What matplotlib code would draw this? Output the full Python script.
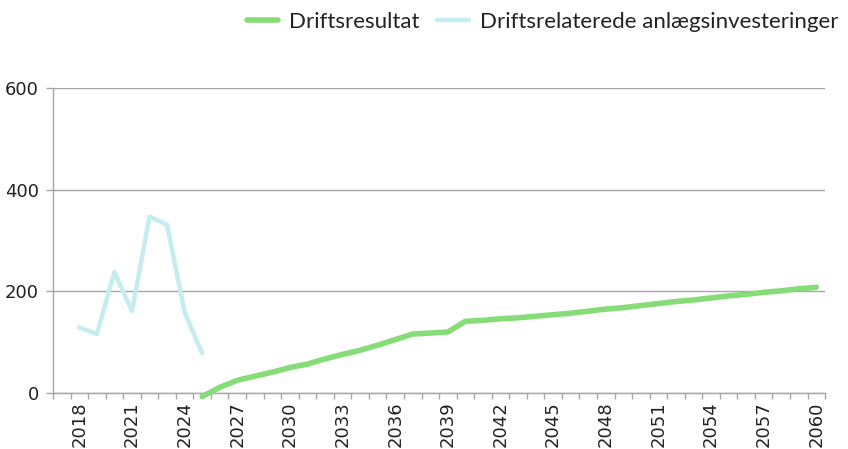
import numpy as np
import matplotlib.pyplot as plt

invest_years = [2018, 2019, 2020, 2021, 2022, 2023, 2024, 2025]
invest_vals = [129, 116, 238, 161, 347, 331, 159, 78]

result_years = list(range(2025, 2061))
result_vals = [-7, 11, 25, 33, 41, 50, 57, 67, 76, 84, 94, 105, 116, 118, 120,
               141, 143, 146, 148, 151, 154, 157, 161, 165, 168, 172, 176, 180,
               183, 187, 191, 194, 198, 201, 205, 208]

xtick_years = list(range(2018, 2061, 3))
yticks = [0, 200, 400, 600]

grey = '#a6a6a6'
txt = '#222222'

fig = plt.figure(figsize=(8.48, 4.49), dpi=100)
ax = fig.add_axes([0.0625, 0.1247, 0.9105, 0.6793])

ax.plot(result_years, result_vals, color='#86dc77', lw=4,
        solid_capstyle='round', solid_joinstyle='round', clip_on=False,
        label='Driftsresultat', zorder=3)
ax.plot(invest_years, invest_vals, color='#c5ecef', lw=3.2,
        solid_capstyle='round', solid_joinstyle='round', clip_on=False,
        label='Driftsrelaterede anlægsinvesteringer', zorder=3)

ax.set_xlim(2016.5, 2060.5)
ax.set_ylim(0, 600)

ax.set_xticks(xtick_years)
ax.set_xticklabels([str(y) for y in xtick_years], rotation=90,
                   fontsize=13, family='DejaVu Sans', color=txt)
ax.set_xticks(np.arange(2016.5, 2061, 1), minor=True)
ax.tick_params(axis='x', which='major', length=0, pad=6)
ax.tick_params(axis='x', which='minor', length=4, color=grey, width=1)

ax.set_yticks(yticks)
ax.set_yticklabels([str(v) for v in yticks], fontsize=13,
                   family='DejaVu Sans', color=txt)
ax.tick_params(axis='y', length=5, color=grey, width=1, pad=5)

ax.grid(axis='y', color=grey, lw=1)
ax.set_axisbelow(True)
for s in ['top', 'right']:
    ax.spines[s].set_visible(False)
for s in ['left', 'bottom']:
    ax.spines[s].set_color(grey)
    ax.spines[s].set_linewidth(1)

leg = fig.legend(loc='center right', bbox_to_anchor=(1.012, 0.951), ncol=2,
                 frameon=False, prop={'family': 'Lato', 'size': 16},
                 handlelength=1.4, handletextpad=0.5, columnspacing=0.8)
for t in leg.get_texts():
    t.set_color(txt)

fig.savefig('out.png', dpi=100)
